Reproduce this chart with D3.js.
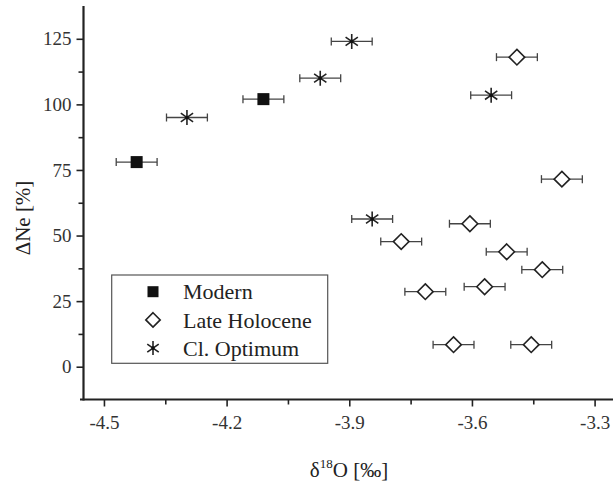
<!DOCTYPE html>
<html>
<head>
<meta charset="utf-8">
<script src="https://cdn.jsdelivr.net/npm/d3@7"></script>
<style>
  body { margin: 0; background: #fff; }
</style>
</head>
<body>
<svg id="svg" width="613" height="481"></svg>
<script>
// series: [d18O, dNe]
var modern = [[-4.42, 78], [-4.11, 102]];
var lateHolocene = [
  [-3.49, 118], [-3.38, 71.5], [-3.605, 54.5], [-3.773, 47.7], [-3.515, 43.8],
  [-3.428, 37], [-3.714, 28.6], [-3.569, 30.5], [-3.645, 8.4], [-3.455, 8.4]
];
var climOptimum = [[-4.297, 95], [-3.894, 124], [-3.971, 110], [-3.553, 103.5], [-3.844, 56.3]];
var xErr = 0.05;

var xTicks = [-4.5, -4.2, -3.9, -3.6, -3.3],
    xMinor = [-4.35, -4.05, -3.75, -3.45],
    yTicks = [0, 25, 50, 75, 100, 125],
    yMinor = [12.5, 37.5, 62.5, 87.5, 112.5];

var legendItems = ['Modern', 'Late Holocene', 'Cl. Optimum'];

var FONT = 'Liberation Serif';
var svg = d3.select('#svg');

var x = d3.scaleLinear().domain([-4.55, -3.255]).range([83.5, 613]),
    y = d3.scaleLinear().domain([-12.5, 137.5]).range([399.5, 6]);

// axes
var xAxis = svg.append('g').attr('transform', 'translate(0,399.5)');
xAxis.call(d3.axisBottom(x).tickValues(xTicks).tickSize(7).tickPadding(9)
  .tickFormat(function (d) { return d.toFixed(1); }));
xAxis.append('g').call(d3.axisBottom(x).tickValues(xMinor).tickSize(5).tickFormat(''));

var yAxis = svg.append('g').attr('transform', 'translate(83.5,0)');
yAxis.call(d3.axisLeft(y).tickValues(yTicks).tickSize(7).tickPadding(5));
yAxis.append('g').call(d3.axisLeft(y).tickValues(yMinor).tickSize(5).tickFormat(''));

svg.selectAll('.domain').remove();
svg.selectAll('.tick line').attr('stroke', '#222').attr('stroke-width', 1.6);
svg.selectAll('.tick text').attr('font-size', 19).attr('fill', '#333')
  .attr('font-family', FONT);

svg.append('line').attr('x1', 80).attr('x2', 613).attr('y1', 399.5).attr('y2', 399.5)
  .attr('stroke', '#222').attr('stroke-width', 2.2);
svg.append('line').attr('x1', 83.5).attr('x2', 83.5).attr('y1', 6).attr('y2', 400.5)
  .attr('stroke', '#222').attr('stroke-width', 2.2);

// axis titles
svg.append('text').attr('transform', 'translate(30,218) rotate(-90)')
  .attr('text-anchor', 'middle').attr('font-size', 21).attr('fill', '#222')
  .attr('font-family', FONT)
  .text('\u0394Ne [%]');

var xt = svg.append('text').attr('x', 349).attr('y', 477)
  .attr('text-anchor', 'middle').attr('font-size', 21).attr('fill', '#222')
  .attr('font-family', FONT);
xt.append('tspan').text('\u03b4');
xt.append('tspan').attr('font-size', 13).attr('dy', -9).text('18');
xt.append('tspan').attr('dy', 9).text('O [\u2030]');

// markers
function square(g, s) {
  g.append('rect').attr('x', -s / 2).attr('y', -s / 2).attr('width', s).attr('height', s)
    .attr('fill', '#111');
}
function diamond(g, r) {
  g.append('path').attr('d', 'M0,' + (-r) + 'L' + r + ',0L0,' + r + 'L' + (-r) + ',0Z')
    .attr('fill', '#fff').attr('stroke', '#222').attr('stroke-width', 1.6);
}
function star(g, r) {
  var d = '';
  [90, 35, 145].forEach(function (a) {
    var t = a * Math.PI / 180, dx = r * Math.cos(t), dy = r * Math.sin(t);
    d += 'M' + (-dx) + ',' + dy + 'L' + dx + ',' + (-dy);
  });
  g.append('path').attr('d', d).attr('stroke', '#222').attr('stroke-width', 1.6).attr('fill', 'none');
  g.append('circle').attr('r', 1.8).attr('fill', '#111');
}

function drawSeries (data, marker, size) {
  var g = svg.append('g').selectAll('g').data(data).enter().append('g');
  // error bars
  g.append('line')
    .attr('x1', function (d) { return x(d[0] - xErr); })
    .attr('x2', function (d) { return x(d[0] + xErr); })
    .attr('y1', function (d) { return y(d[1]); })
    .attr('y2', function (d) { return y(d[1]); })
    .attr('stroke', '#444').attr('stroke-width', 1.3);
  [-1, 1].forEach(function (s) {
    g.append('line')
      .attr('x1', function (d) { return x(d[0] + s * xErr); })
      .attr('x2', function (d) { return x(d[0] + s * xErr); })
      .attr('y1', function (d) { return y(d[1]) - 4; })
      .attr('y2', function (d) { return y(d[1]) + 4; })
      .attr('stroke', '#444').attr('stroke-width', 1.3);
  });
  g.append('g')
    .attr('transform', function (d) { return 'translate(' + x(d[0]) + ',' + y(d[1]) + ')'; })
    .each(function () { marker(d3.select(this), size); });
}

drawSeries(modern, square, 12);
drawSeries(lateHolocene, diamond, 7.8);
drawSeries(climOptimum, star, 7.5);

// legend
var lg = svg.append('g');
lg.append('rect').attr('x', 111.7).attr('y', 275).attr('width', 216).attr('height', 88.3)
  .attr('fill', '#fff').attr('stroke', '#555').attr('stroke-width', 1.2);
var markers = [[square, 11], [diamond, 7.2], [star, 7]];
legendItems.forEach(function (name, i) {
  var row = lg.append('g').attr('transform', 'translate(153,' + (291.7 + i * 28.2) + ')');
  markers[i][0](row.append('g'), markers[i][1]);
  row.append('text').attr('x', 30).attr('dy', '0.35em').attr('font-size', 22)
    .attr('font-family', FONT).attr('fill', '#222').text(name);
});
</script>
</body>
</html>
